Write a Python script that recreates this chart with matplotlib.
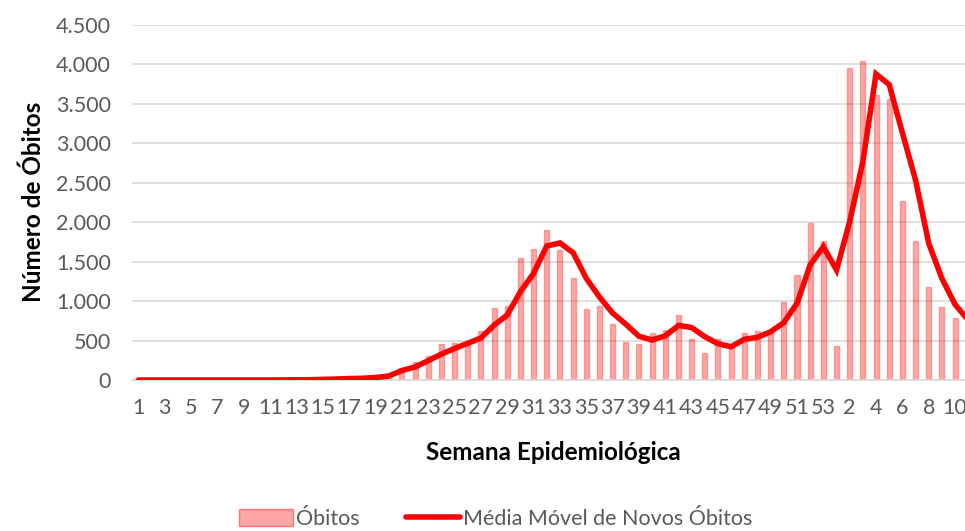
import matplotlib
matplotlib.use("Agg")
import matplotlib.pyplot as plt
from matplotlib.ticker import FuncFormatter, FixedLocator
from matplotlib.patches import Patch
from matplotlib.lines import Line2D

# Epidemiological weeks: 1..53 (2020) then 1..11 (2021)
weeks = list(range(1, 54)) + list(range(1, 12))

obitos = [0, 0, 0, 0, 0, 0, 0, 0, 0, 0,
          0, 1, 2, 4, 8, 12, 20, 25, 35, 55,
          156, 224, 300, 452, 475, 470, 615, 909, 942, 1542,
          1665, 1905, 1652, 1293, 905, 940, 704, 480, 456, 600,
          636, 824, 518, 340, 522, 440, 600, 621, 590, 993,
          1331, 1994, 1766, 433, 3959, 4048, 3613, 3558, 2273, 1766,
          1183, 925, 782, 612]

media_movel = [0, 0, 0, 0, 0, 0, 0, 0, 0, 0,
               0, 1, 2, 4, 8, 12, 18, 22, 32, 50,
               120, 165, 245, 328, 400, 465, 532, 695, 824, 1119,
               1352, 1699, 1737, 1614, 1289, 1052, 849, 708, 554, 507,
               560, 692, 665, 549, 460, 422, 516, 541, 612, 727,
               972, 1458, 1690, 1394, 2007, 2767, 3879, 3745, 3135, 2535,
               1733, 1289, 957, 760]

yticks = [0, 500, 1000, 1500, 2000, 2500, 3000, 3500, 4000, 4500]

FONT = "Lato"
GRAY = "#595959"
BAR_FACE = (1, 0, 0, 0.35)
BAR_EDGE = (1, 0, 0, 0.30)

fig = plt.figure(figsize=(9.65, 5.31), dpi=100)
ax = fig.add_axes([131.9 / 965, (531 - 380) / 531, 842.9 / 965, 355 / 531])

x = list(range(len(weeks)))
ax.bar(x, obitos, width=0.38, facecolor=BAR_FACE,
       edgecolor=BAR_EDGE, linewidth=1.0, zorder=2)
ax.plot(x, media_movel, color="#FF0000", linewidth=4.0,
        solid_joinstyle="miter", solid_capstyle="round", zorder=3)

ax.set_xlim(-0.5, len(weeks) - 0.5)
ax.set_ylim(0, 4500)
ax.yaxis.set_major_locator(FixedLocator(yticks))
ax.yaxis.set_major_formatter(FuncFormatter(lambda v, p: f"{int(v):,}".replace(",", ".")))
ax.set_xticks(x[::2])
ax.set_xticklabels([str(w) for w in weeks[::2]])

ax.grid(axis="y", color="#D9D9D9", linewidth=1.2, zorder=0)
ax.set_axisbelow(True)
for s in ["top", "right", "left"]:
    ax.spines[s].set_visible(False)
ax.spines["bottom"].set_color("#D9D9D9")
ax.spines["bottom"].set_linewidth(1.2)
ax.tick_params(axis="both", length=0, labelcolor=GRAY, labelsize=15.5)
ax.tick_params(axis="y", pad=15)
ax.tick_params(axis="x", pad=13)
for lab in ax.get_xticklabels() + ax.get_yticklabels():
    lab.set_fontfamily(FONT)

fig.text(33 / 965, 1 - 202 / 531, "Número de Óbitos", fontsize=17.5,
         fontweight="bold", family=FONT, ha="center", va="center",
         rotation=90, color="black")
fig.text(553 / 965, 1 - 452 / 531, "Semana Epidemiológica", fontsize=17.5,
         fontweight="bold", family=FONT, ha="center", va="center", color="black")

handles = [Patch(facecolor=BAR_FACE, edgecolor=(1, 0, 0, 0.45), linewidth=1.0),
           Line2D([0], [0], color="#FF0000", linewidth=4.0, solid_capstyle="round")]
leg = fig.legend(handles, ["Óbitos", "Média Móvel de Novos Óbitos"],
                 loc="center", bbox_to_anchor=(496 / 965, 1 - 519 / 531),
                 ncol=2, frameon=False, prop={"family": FONT, "size": 15.5},
                 handlelength=2.5, handleheight=0.8, handletextpad=0.15,
                 columnspacing=2.15, labelcolor=GRAY)

fig.savefig("out.png", dpi=100)
